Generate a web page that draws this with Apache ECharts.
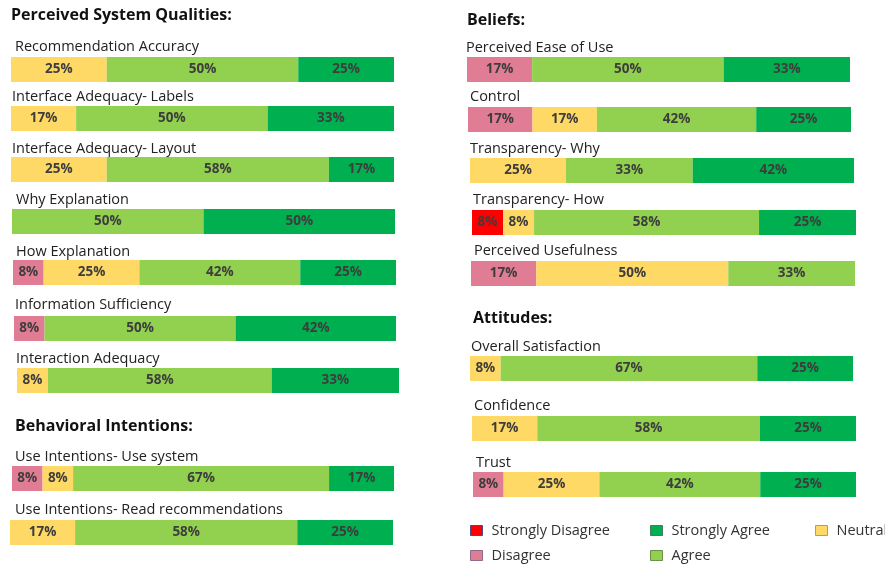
<!DOCTYPE html>
<html>
<head>
<meta charset="utf-8">
<script src="https://cdn.jsdelivr.net/npm/echarts@6/dist/echarts.min.js"></script>
<style>
  html, body { margin: 0; padding: 0; background: #fff; }
  #chart { width: 885px; height: 565px; }
</style>
</head>
<body>
<div id="chart"></div>
<script>
// rows: left column first, then right column
const categories = [
  'Recommendation Accuracy', 'Interface Adequacy- Labels', 'Interface Adequacy- Layout',
  'Why Explanation', 'How Explanation', 'Information Sufficiency', 'Interaction Adequacy',
  'Use Intentions- Use system', 'Use Intentions- Read recommendations',
  'Perceived Ease of Use', 'Control', 'Transparency- Why', 'Transparency- How',
  'Perceived Usefulness', 'Overall Satisfaction', 'Confidence', 'Trust'
];
const classNames = ['Strongly Disagree', 'Disagree', 'Neutral', 'Agree', 'Strongly Agree'];

const stronglyDisagree = [0, 0, 0, 0, 0, 0, 0, 0, 0, 0, 0, 0, 8, 0, 0, 0, 0];
const disagree         = [0, 0, 0, 0, 8, 8, 0, 8, 0, 17, 17, 0, 0, 17, 0, 0, 8];
const neutral          = [25, 17, 25, 0, 25, 0, 8, 8, 17, 0, 17, 25, 8, 50, 8, 17, 25];
const agree            = [50, 50, 58, 50, 42, 50, 58, 67, 58, 50, 42, 33, 58, 33, 67, 58, 42];
const stronglyAgree    = [25, 33, 17, 50, 25, 42, 33, 17, 25, 33, 25, 42, 25, 0, 25, 25, 25];

const sections = ['Perceived System Qualities:', 'Behavioral Intentions:', 'Beliefs:', 'Attitudes:'];

// layout (pixels)
const barBoxes = [
  [11, 57, 383], [11, 106, 383], [11, 157, 383], [12, 209, 383], [13, 260, 383],
  [14, 316, 382], [17, 368, 382], [12, 466, 382], [10, 520, 383],
  [467, 57, 383], [468, 107, 383], [470, 158, 384], [472, 210, 384], [471, 261, 384],
  [470, 356, 383], [472, 416, 384], [473, 472, 383]
];
const labelPos = [
  [15, 46], [12, 96], [12, 148], [16, 199], [16, 251], [15, 304], [16, 358], [15, 456], [15, 509],
  [466, 47], [470, 96], [470, 148], [473, 199], [474, 250], [471, 346], [474, 405], [476, 462]
];
const sectionPos = [[11, 15], [15, 426], [467, 20], [473, 318]];
const legendPos = [[470, 531], [470, 556], [815, 531], [650, 556], [650, 531]];

const colors = ['#FF0000', '#E07D95', '#FFD966', '#92D050', '#00B050'];
const borders = ['#4a4a8a', '#8c6b8c', '#b0a060', '#6d8f4a', '#3f7f5f'];
const values = [stronglyDisagree, disagree, neutral, agree, stronglyAgree];

const font = '"Open Sans", "Noto Sans", sans-serif';

let chart = echarts.init(document.getElementById('chart'));

let grid = [], xAxis = [], yAxis = [], series = [], graphic = [];

categories.forEach((name, i) => {
  const b = barBoxes[i];
  let total = 0;
  values.forEach(v => { total += v[i]; });
  grid.push({ left: b[0], top: b[1], width: b[2], height: 25, containLabel: false });
  xAxis.push({ type: 'value', gridIndex: i, min: 0, max: total, show: false });
  yAxis.push({ type: 'category', gridIndex: i, data: [name], show: false });
  classNames.forEach((cls, k) => {
    series.push({
      name: cls,
      type: 'bar',
      stack: 'row' + i,
      xAxisIndex: i,
      yAxisIndex: i,
      barWidth: 25,
      silent: true,
      itemStyle: { color: colors[k] },
      label: {
        show: true,
        position: 'inside',
        color: '#3d3d3d',
        fontWeight: 'bold',
        fontSize: 13.5,
        fontFamily: font,
        formatter: p => (p.value ? p.value + '%' : '')
      },
      data: [values[k][i]]
    });
  });
  graphic.push({
    type: 'text',
    left: labelPos[i][0],
    top: labelPos[i][1] - 7,
    style: { text: name, fill: '#222', font: '14.5px ' + font }
  });
});

sections.forEach((s, i) => {
  graphic.push({
    type: 'text',
    left: sectionPos[i][0],
    top: sectionPos[i][1] - 8,
    style: { text: s, fill: '#111', font: 'bold 16px ' + font }
  });
});

let legend = classNames.map((cls, k) => ({
  left: legendPos[k][0],
  top: legendPos[k][1] - 8,
  data: [{ name: cls, itemStyle: { borderColor: borders[k], borderWidth: 1 } }],
  icon: 'rect',
  itemWidth: 12,
  itemHeight: 10,
  itemGap: 10,
  selectedMode: false,
  padding: 0,
  textStyle: { fontSize: 14.5, color: '#333', fontFamily: font, padding: [0, 0, 0, 4] }
}));

let option = {
  animation: false,
  backgroundColor: '#fff',
  grid: grid,
  xAxis: xAxis,
  yAxis: yAxis,
  legend: legend,
  graphic: graphic,
  series: series
};

option && chart.setOption(option);
</script>
</body>
</html>
